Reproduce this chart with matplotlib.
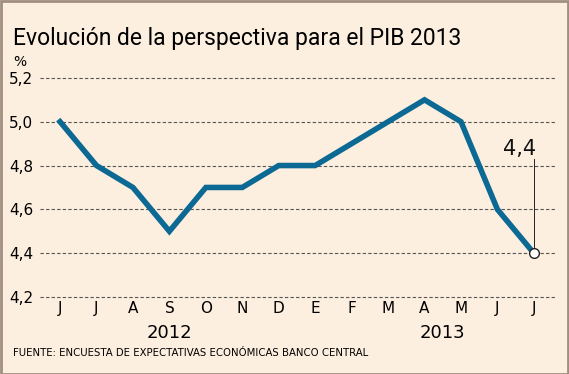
import matplotlib.pyplot as plt
from matplotlib.patches import Rectangle

months = ["J", "J", "A", "S", "O", "N", "D", "E", "F", "M", "A", "M", "J", "J"]
values = [5.0, 4.8, 4.7, 4.5, 4.7, 4.7, 4.8, 4.8, 4.9, 5.0, 5.1, 5.0, 4.6, 4.4]
yticks = [4.2, 4.4, 4.6, 4.8, 5.0, 5.2]
ytick_labels = ["4,2", "4,4", "4,6", "4,8", "5,0", "5,2"]
years = ["2012", "2013"]
year_pos = [3, 10.5]

bg = "#fcefdf"
line_color = "#0b6994"

fig = plt.figure(figsize=(5.69, 3.74), dpi=100, facecolor=bg)
W, H = 569, 374
ax = fig.add_axes([40 / W, 1 - 297 / H, (555 - 40) / W, (297 - 56) / H])
ax.set_facecolor(bg)

x = list(range(len(values)))
ax.set_xlim(-0.55, 13.58)
ax.set_ylim(4.2, 5.3)

for y in yticks:
    ax.axhline(y, color="#555555", lw=0.8, ls=(0, (3, 2)), zorder=1, clip_on=False)

ax.plot(x, values, color=line_color, lw=4, solid_joinstyle="miter", zorder=3)
ax.plot(x[-1], values[-1], "o", ms=7, mfc="white", mec="#222222", mew=1, zorder=5)

# callout for last value
ax.plot([x[-1], x[-1]], [values[-1], 4.83], color="#222222", lw=0.7, zorder=4)
ax.text(x[-1] - 0.4, 4.85, "4,4", fontsize=15, ha="center", va="baseline", color="#111111")

ax.set_yticks(yticks)
ax.set_yticklabels(ytick_labels, fontsize=11)
ax.set_xticks(x)
ax.set_xticklabels(months, fontsize=11)
ax.tick_params(length=0, pad=3)
ax.tick_params(axis="y", pad=5)
for s in ax.spines.values():
    s.set_visible(False)

for yr, p in zip(years, year_pos):
    ax.text(p, -0.15, yr, transform=ax.get_xaxis_transform(), fontsize=13,
            ha="center", va="center")

fig.text(13 / W, 1 - 38 / H, "Evolución de la perspectiva para el PIB 2013",
         fontsize=16.5, va="center", ha="left", family="Roboto")
fig.text(13 / W, 1 - 62 / H, "%", fontsize=10, va="center", ha="left")
fig.text(13 / W, 1 - 353 / H, "FUENTE: ENCUESTA DE EXPECTATIVAS ECONÓMICAS BANCO CENTRAL",
         fontsize=7.3, va="center", ha="left")

fig.patches.append(Rectangle((0.5 / W, 0.5 / H), 1 - 1.5 / W, 1 - 1.5 / H,
                             transform=fig.transFigure, fill=False,
                             ec="#a08f80", lw=2))

fig.savefig("out.png", dpi=100, facecolor=bg)
